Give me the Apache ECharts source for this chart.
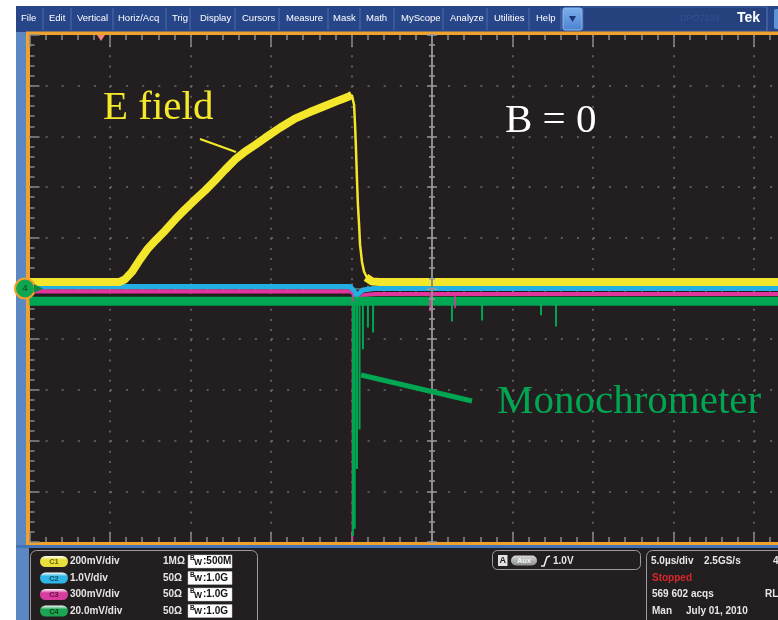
<!DOCTYPE html>
<html>
<head>
<meta charset="utf-8">
<script src="https://cdn.jsdelivr.net/npm/echarts@6/dist/echarts.min.js"></script>
<style>
html,body{margin:0;padding:0;background:#ffffff;}
#scope{width:778px;height:620px;}
</style>
</head>
<body>
<div id="scope"></div>
<script>
// Time in µs from screen centre (5.0 µs/div), level in vertical divisions.

// C1 – E field (200 mV/div)
const c1Rise = [[-25,0.13],[-19.4,0.13],[-19.07,0.18],[-18.63,0.33],[-18.14,0.57],[-17.64,0.79],[-17.14,0.96],[-16.58,1.14],[-15.96,1.36],[-15.34,1.56],[-14.72,1.75],[-14.10,1.93],[-13.48,2.13],[-12.86,2.34],[-12.24,2.54],[-11.61,2.70],[-10.99,2.83],[-10.37,2.97],[-9.44,3.17],[-8.51,3.35],[-7.58,3.48],[-6.65,3.60],[-5.71,3.72],[-5.2,3.78],[-4.98,3.82]];
const c1Fall = [[-4.98,3.82],[-4.84,3.62],[-4.78,3.23],[-4.72,2.74],[-4.66,2.15],[-4.60,1.65],[-4.53,1.26],[-4.47,0.87],[-4.35,0.53],[-4.22,0.33],[-4.04,0.22]];
const c1Tail = [[-4.1,0.22],[-3.73,0.14],[-3.23,0.13],[25,0.13]];

// C2 (1.0 V/div)
const c2Trace = [[-25,0.04],[-5.1,0.04],[-4.85,-0.04],[-4.72,-0.14],[-4.55,-0.10],[-4.3,-0.03],[-3.6,0.0],[25,0.0]];

// C3 (300 mV/div)
const c3Trace = [[-25,-0.06],[-5.0,-0.06],[-4.75,-0.16],[-4.5,-0.20],[-4.2,-0.13],[-3.5,-0.11],[25,-0.11]];
const c3Base = -0.08;
const c3Spikes = [[-4.94,-4.98],[-0.12,-0.45],[1.43,-0.39]];

// C4 – monochromator (20.0 mV/div)
const c4Trace = [[-25,-0.25],[25,-0.25]];
const c4Base = -0.25;
const c4Spikes = [[-4.91,-4.88],[-4.80,-4.74],[-4.66,-3.56],[-4.50,-2.78],[-4.29,-1.20],[-3.98,-0.77],[-3.66,-0.87],[1.24,-0.65],[3.11,-0.63],[6.77,-0.53],[7.70,-0.75]];

// Graticule: 10 x 10 divisions
const timeRange = [-25, 25];
const timePerDiv = 5;
const levelRange = [-5, 5];

// Menu bar and readouts
const menuItems = ['File','Edit','Vertical','Horiz/Acq','Trig','Display','Cursors','Measure','Mask','Math','MyScope','Analyze','Utilities','Help'];
const channelRows = [
  {id:'C1', scale:'200mV/div', term:'1MΩ', bw:'500M'},
  {id:'C2', scale:'1.0V/div',  term:'50Ω', bw:'1.0G'},
  {id:'C3', scale:'300mV/div', term:'50Ω', bw:'1.0G'},
  {id:'C4', scale:'20.0mV/div',term:'50Ω', bw:'1.0G'}
];
const trigLevel = '1.0V';
const horizReadout = ['5.0µs/div', '2.5GS/s'];
const acqCount = '569 602 acqs';
const acqDate = 'July 01, 2010';

const colors = {C1:'#f3e62b', C2:'#22b0e4', C3:'#e0359c', C4:'#00a651'};
const pillColors = {C1:['#e9df3c','#6c6500'], C2:['#30b6e6','#0d4d66'], C3:['#d83c9f','#5c0f3f'], C4:['#1ca653','#053d1b']};

function spikePath(base, spikes) {
  const out = [];
  spikes.forEach(function (s) { out.push([s[0], base], [s[0], s[1]], [s[0], '-']); });
  return out;
}

const chart = echarts.init(document.getElementById('scope'), null, {renderer:'canvas', width:778, height:620});

const axisGrey = '#8a8a8a';
const dotGrey = '#6f6f6f';

function xAx(extra) {
  return Object.assign({type:'value', min:timeRange[0], max:timeRange[1], interval:timePerDiv,
    axisLabel:{show:false}, splitLine:{show:false}, z:1}, extra);
}
function yAx(extra) {
  return Object.assign({type:'value', min:levelRange[0], max:levelRange[1], interval:1,
    axisLabel:{show:false}, splitLine:{show:false}, z:1}, extra);
}

const xAxes = [
  xAx({position:'bottom', axisLine:{show:false, onZero:false},
       axisTick:{show:true, inside:true, length:10, lineStyle:{color:axisGrey, width:1.5}},
       minorTick:{show:true, splitNumber:5, length:5, lineStyle:{color:axisGrey, width:1.5}},
       splitLine:{show:true, showMinLine:false, showMaxLine:false, lineStyle:{color:dotGrey, width:1.5, type:[2, 8.14]}}}),
  xAx({position:'top', axisLine:{show:false, onZero:false},
       axisTick:{show:true, inside:true, length:12, lineStyle:{color:axisGrey, width:1.5}},
       minorTick:{show:true, splitNumber:5, length:5, lineStyle:{color:axisGrey, width:1.5}}}),
  xAx({position:'bottom', axisLine:{show:true, onZero:true, onZeroAxisIndex:0, lineStyle:{color:'#7a7a7a', width:1.5}},
       axisTick:{show:true, inside:false, length:5, lineStyle:{color:axisGrey, width:1.5}},
       minorTick:{show:true, splitNumber:5, length:3, lineStyle:{color:axisGrey, width:1.5}}}),
  xAx({position:'bottom', axisLine:{show:false, onZero:true, onZeroAxisIndex:0},
       axisTick:{show:true, inside:true, length:5, lineStyle:{color:axisGrey, width:1.5}},
       minorTick:{show:true, splitNumber:5, length:3, lineStyle:{color:axisGrey, width:1.5}}})
];
const yAxes = [
  yAx({position:'left', axisLine:{show:false, onZero:false},
       axisTick:{show:true, inside:true, length:10, lineStyle:{color:axisGrey, width:1.5}},
       minorTick:{show:true, splitNumber:5, length:5, lineStyle:{color:axisGrey, width:1.5}},
       splitLine:{show:true, showMinLine:false, showMaxLine:false, lineStyle:{color:dotGrey, width:1.5, type:[2, 14.1]}}}),
  yAx({position:'left', z:10, axisLine:{show:true, onZero:true, onZeroAxisIndex:0, lineStyle:{color:'#8c8c8c', width:2}},
       axisTick:{show:true, inside:false, length:5, lineStyle:{color:'#9a9a9a', width:1.5}},
       minorTick:{show:true, splitNumber:5, length:3, lineStyle:{color:'#9a9a9a', width:1.5}}}),
  yAx({position:'left', z:10, axisLine:{show:false, onZero:true, onZeroAxisIndex:0},
       axisTick:{show:true, inside:true, length:5, lineStyle:{color:'#9a9a9a', width:1.5}},
       minorTick:{show:true, splitNumber:5, length:3, lineStyle:{color:'#9a9a9a', width:1.5}}})
];

function trace(data, color, width, z) {
  return {type:'line', data:data, xAxisIndex:0, yAxisIndex:0, symbol:'none', showSymbol:false,
    silent:true, animation:false, connectNulls:false, z:z,
    lineStyle:{color:color, width:width, join:'round', cap:'butt'}};
}

// ---- instrument frame, menu bar, readouts (graphic elements) ----
const g = [];
let zb = 0, zt = 0;
function back(el) { el.z = -10; el.z2 = zb++; el.silent = true; g.push(el); }
function front(el) { el.z = 50; el.z2 = zt++; el.silent = true; g.push(el); }
function rect(x, y, w, h, style, r) { return {type:'rect', shape:{x:x, y:y, width:w, height:h, r:r || 0}, style:style}; }
function txt(x, y, s, font, fill, align, valign) {
  return {type:'text', style:{x:x, y:y, text:s, font:font, fill:fill, textAlign:align || 'left', textVerticalAlign:valign || 'middle'}};
}

const uiFont = '"Liberation Sans", Arial, sans-serif';
const serif = '"Liberation Serif", "Times New Roman", serif';

back(rect(0, 0, 778, 620, {fill:'#ffffff'}));
back(rect(16, 6, 762, 614, {fill:'#5b87c3'}));
back(rect(16, 6, 762, 26, {fill:'#27468a'}));
back(rect(583, 7, 184, 24, {fill:'#25427f', stroke:'#3d5c9a', lineWidth:1}));
back(rect(26, 31.5, 752, 514, {fill:'#f1a22e'}));
back(rect(30, 35, 748, 507, {fill:'#231f20'}));
back(rect(16, 545, 762, 3, {fill:'#4574b6'}));
back(rect(29, 548, 749, 72, {fill:'#231f20'}));

// menu
const menuX = [21, 49, 77, 118, 172, 200, 242, 286, 333, 366, 401, 450, 494, 536];
const sepX = [43, 71, 113, 166, 190, 235, 279, 328, 360, 394, 443, 487, 529, 561];
menuItems.forEach(function (m, i) { front(txt(menuX[i], 18.5, m, '9.5px ' + uiFont, '#ffffff')); });
sepX.forEach(function (x) { front({type:'line', shape:{x1:x, y1:8, x2:x, y2:30}, style:{stroke:'#4d6ca8', lineWidth:1}}); });
front(rect(563, 8, 19, 22, {fill:new echarts.graphic.LinearGradient(0,0,0,1,[{offset:0,color:'#7eb0ec'},{offset:1,color:'#4a82cf'}]), stroke:'#8fb8ee', lineWidth:1}, 2));
front({type:'polygon', shape:{points:[[569,16],[576,16],[572.5,22]]}, style:{fill:'#1a3675'}});
front(txt(680, 18.5, 'DPO7104', '9px ' + uiFont, '#33528f'));
front(txt(737, 18.5, 'Tek', 'bold 14px ' + uiFont, '#ffffff'));
front({type:'line', shape:{x1:767, y1:7, x2:767, y2:31}, style:{stroke:'#4d6ca8', lineWidth:1}});
front(rect(774, 9, 8, 20, {fill:'#5d93d8'}, 2));

// trigger position marker and channel marker
front({type:'polygon', shape:{points:[[97,35],[105,35],[101,41]]}, style:{fill:'#f2857a'}});
front({type:'circle', shape:{cx:25, cy:288.5, r:10}, style:{fill:'#10a54f', stroke:'#f1a22e', lineWidth:2}});
front(txt(25, 289, '4', 'bold 9px ' + uiFont, '#0b5f2c', 'center'));
front({type:'polygon', shape:{points:[[34,284],[43,288.5],[34,293]]}, style:{fill:'#0d8a41'}});

// annotations
front(txt(103, 108, 'E field', '41px ' + serif, '#f5e92c'));
front({type:'line', shape:{x1:200, y1:139, x2:236, y2:152}, style:{stroke:'#f5e92c', lineWidth:2}});
front(txt(505, 121, 'B = 0', '41px ' + serif, '#ffffff'));
front(txt(497, 402, 'Monochrometer', '41px ' + serif, '#00a651'));
front({type:'line', shape:{x1:361, y1:375, x2:472, y2:401}, style:{stroke:'#00a651', lineWidth:5}});

// vertical readout panel
front(rect(30.5, 550.5, 227, 80, {fill:'#231f20', stroke:'#9c9c9c', lineWidth:1}, 6));
const rowY = [561.5, 578, 594.5, 611];
channelRows.forEach(function (c, i) {
  const y = rowY[i];
  const pc = pillColors[c.id];
  front(rect(40, y - 5.5, 28, 11, {fill:new echarts.graphic.LinearGradient(0,0,0,1,[{offset:0,color:'#ffffff'},{offset:0.35,color:pc[0]},{offset:1,color:pc[0]}])}, 5.5));
  front(txt(54, y + 0.5, c.id, 'bold 7.5px ' + uiFont, pc[1], 'center'));
  front(txt(70, y, c.scale, 'bold 10px ' + uiFont, '#e6e6e6'));
  front(txt(163, y, c.term, 'bold 10px ' + uiFont, '#e6e6e6'));
  front(rect(188, y - 6.5, 44, 13, {fill:'#ffffff', stroke:'#bdbdbd', lineWidth:0.5}));
  front(txt(190, y - 3, 'B', 'bold 6.5px ' + uiFont, '#111111'));
  front(txt(194, y + 1, 'W', 'bold 8.5px ' + uiFont, '#111111'));
  front(txt(203, y, ':' + c.bw, 'bold 10px ' + uiFont, '#111111'));
});

// trigger readout panel
front(rect(492.5, 550.5, 148, 19, {fill:'#231f20', stroke:'#9c9c9c', lineWidth:1}, 5));
front(rect(498, 555, 9.5, 11, {fill:'#e2e2e2'}));
front(txt(502.8, 561, 'A', 'bold 9px ' + uiFont, '#222222', 'center'));
front(rect(511, 555.5, 26, 10, {fill:new echarts.graphic.LinearGradient(0,0,0,1,[{offset:0,color:'#d8d8d8'},{offset:1,color:'#8e8e8e'}])}, 5));
front(txt(524, 561, 'Aux', 'bold 7.5px ' + uiFont, '#f2f2f2', 'center'));
front({type:'polyline', shape:{points:[[541,566],[544,566],[547,557],[550,556]]}, style:{stroke:'#f0f0f0', lineWidth:1.5, fill:null}});
front(txt(553, 561, trigLevel, 'bold 10px ' + uiFont, '#e6e6e6'));

// horizontal / acquisition readout panel
front(rect(646.5, 550.5, 150, 80, {fill:'#231f20', stroke:'#9c9c9c', lineWidth:1}, 6));
front(txt(651, 561.5, horizReadout[0], 'bold 10px ' + uiFont, '#e6e6e6'));
front(txt(704, 561.5, horizReadout[1], 'bold 10px ' + uiFont, '#e6e6e6'));
front(txt(773, 561.5, '4', 'bold 10px ' + uiFont, '#e6e6e6'));
front(txt(652, 578, 'Stopped', 'bold 10px ' + uiFont, '#d8262c'));
front(txt(652, 594.5, acqCount, 'bold 10px ' + uiFont, '#e6e6e6'));
front(txt(765, 594.5, 'RL', 'bold 10px ' + uiFont, '#e6e6e6'));
front(txt(652, 611, 'Man', 'bold 10px ' + uiFont, '#e6e6e6'));
front(txt(686, 611, acqDate, 'bold 10px ' + uiFont, '#e6e6e6'));

chart.setOption({
  animation: false,
  backgroundColor: '#ffffff',
  grid: {left:29.5, top:35, width:805, height:507, show:false, containLabel:false, outerBoundsMode:'none'},
  xAxis: xAxes,
  yAxis: yAxes,
  graphic: {elements: g},
  series: [
    trace(c3Trace, colors.C3, 4, 3),
    trace(c2Trace, colors.C2, 5, 4),
    trace(c4Trace, colors.C4, 9, 5),
    trace(c1Rise, colors.C1, 8, 6),
    trace(c1Fall, colors.C1, 2.5, 6),
    trace(c1Tail, colors.C1, 8, 6),
    trace(spikePath(c3Base, c3Spikes), colors.C3, 1.5, 7),
    trace(spikePath(c4Base, c4Spikes), colors.C4, 2, 8)
  ]
});
</script>
</body>
</html>
